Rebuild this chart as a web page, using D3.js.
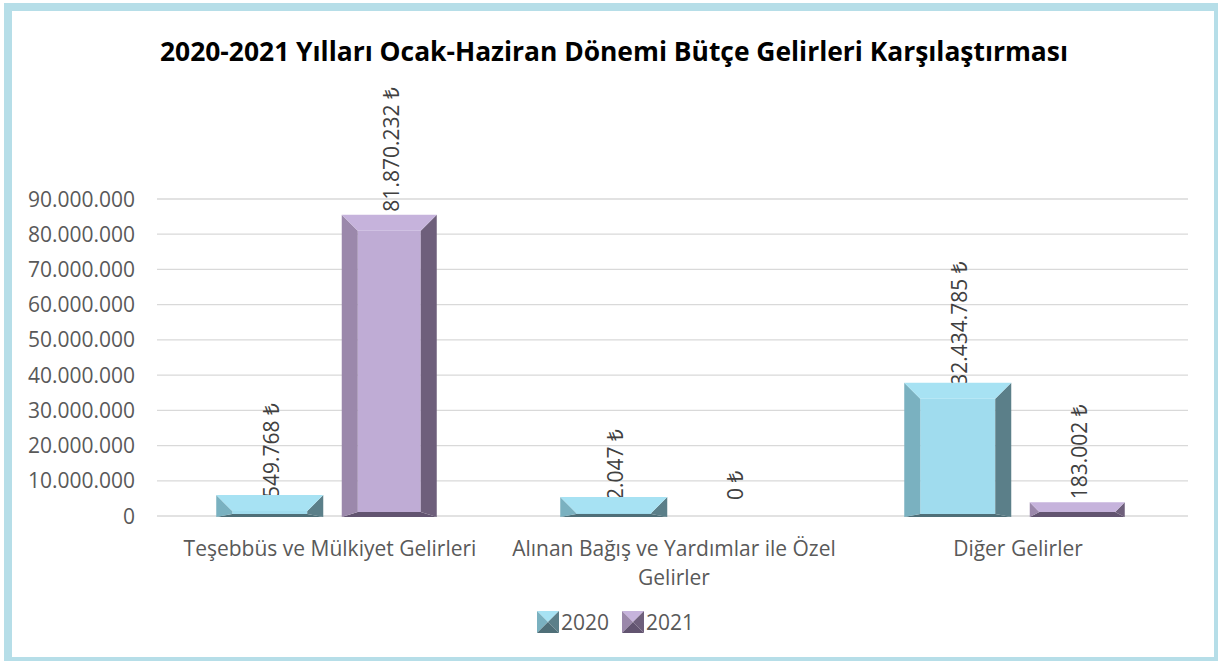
<!DOCTYPE html>
<html>
<head>
<meta charset="utf-8">
<script src="https://cdn.jsdelivr.net/npm/d3@7"></script>
<style>
  body { margin: 0; background: #fff; }
  text { font-family: 'Open Sans', 'Noto Sans', sans-serif; }
</style>
</head>
<body>
<div id="chart"></div>
<script>
const categories = ['Teşebbüs ve Mülkiyet Gelirleri', 'Alınan Bağış ve Yardımlar ile Özel Gelirler', 'Diğer Gelirler'];
const years = ['2020', '2021'];
const values2020 = [549768, 2047, 32434785];
const values2021 = [81870232, 0, 183002];
const yTicks = [0, 10000000, 20000000, 30000000, 40000000, 50000000, 60000000, 70000000, 80000000, 90000000];

const W = 1218;
const H = 661;
const plot = { left: 157, right: 1188, top: 199, bottom: 516 };

// bevel look per series: face colors and the bevel depth in px
const skins = {
  2020: { top: '#a7e2f3', face: '#a0dcee', left: '#7ab1c0', right: '#5b7f89', bottom: '#4f6f78', lift: 19, bevel: 16, foot: 3, width: 107 },
  2021: { top: '#c6b3dc', face: '#bfacd5', left: '#9b88ab', right: '#6e5f7b', bottom: '#625470', lift: 13, bevel: 16, foot: 5, width: 95 },
};

const tr = d3.formatLocale({ decimal: ',', thousands: '.', grouping: [3], currency: ['', ' ₺'] });
const fmtTick = tr.format(',d');
const fmtLabel = d => tr.format(',d')(d) + ' ₺';

const rows = categories.map((c, i) => ({
  category: c,
  values: [
    { year: '2020', value: values2020[i] },
    { year: '2021', value: values2021[i] },
  ],
}));

const svg = d3.select('#chart').append('svg')
  .attr('width', W)
  .attr('height', H);

// frame
svg.append('rect')
  .attr('x', 8).attr('y', 7)
  .attr('width', 1210).attr('height', 654)
  .attr('fill', '#fff')
  .attr('stroke', '#b6dee8')
  .attr('stroke-width', 8);

svg.append('text')
  .attr('x', 614).attr('y', 61)
  .attr('text-anchor', 'middle')
  .attr('font-size', 26)
  .attr('font-weight', 700)
  .attr('fill', '#000')
  .attr('textLength', 908)
  .attr('lengthAdjust', 'spacingAndGlyphs')
  .text('2020-2021 Yılları Ocak-Haziran Dönemi Bütçe Gelirleri Karşılaştırması');

const x0 = d3.scaleBand().domain(categories).range([plot.left + 1, plot.right + 2]);
const x1 = d3.scaleBand().domain(years).range([52, 291]);
const y = d3.scaleLinear().domain([0, 90000000]).range([plot.bottom, plot.top]);

// gridlines
svg.append('g')
  .selectAll('line')
  .data(yTicks)
  .enter()
  .append('line')
  .attr('x1', plot.left).attr('x2', plot.right)
  .attr('y1', d => y(d)).attr('y2', d => y(d))
  .attr('stroke', '#d9d9d9')
  .attr('stroke-width', 1.3);

svg.append('g')
  .selectAll('text')
  .data(yTicks)
  .enter()
  .append('text')
  .attr('x', 135)
  .attr('y', d => y(d))
  .attr('dy', '0.36em')
  .attr('text-anchor', 'end')
  .attr('font-size', 21)
  .attr('fill', '#595959')
  .text(fmtTick);

const groups = svg.append('g')
  .selectAll('g')
  .data(rows)
  .enter()
  .append('g')
  .attr('transform', d => `translate(${x0(d.category)},0)`);

// data labels sit behind the bars, like the original
groups.selectAll('.lbl')
  .data(d => d.values)
  .enter()
  .append('text')
  .attr('class', 'lbl')
  .attr('transform', d => `translate(${x1(d.year) + x1.bandwidth() / 2 + 2},${y(d.value) - 16}) rotate(-90)`)
  .attr('dy', '0.36em')
  .attr('font-size', 21)
  .attr('fill', '#404040')
  .text(d => fmtLabel(d.value));

function bevelBar(g, d) {
  const s = skins[d.year];
  const cx = x1(d.year) + x1.bandwidth() / 2;
  const xa = cx - s.width / 2;
  const xb = cx + s.width / 2;
  const yt = y(d.value) - s.lift;
  const yb = plot.bottom + 1;
  const h = yb - yt;
  const b = Math.min(s.bevel, h - s.foot);
  const yf = yb - s.foot;
  const poly = (pts, fill) => g.append('polygon')
    .attr('points', pts.map(p => p.join(',')).join(' '))
    .attr('fill', fill);
  poly([[xa + b, yt + b], [xb - b, yt + b], [xb - b, yf], [xa + b, yf]], s.face);
  poly([[xa, yb], [xa + b, yf], [xb - b, yf], [xb, yb]], s.bottom);
  poly([[xa, yt], [xa + b, yt + b], [xa + b, yf], [xa, yb]], s.left);
  poly([[xb, yt], [xb - b, yt + b], [xb - b, yf], [xb, yb]], s.right);
  poly([[xa, yt], [xb, yt], [xb - b, yt + b], [xa + b, yt + b]], s.top);
}

groups.each(function (row) {
  const g = d3.select(this);
  row.values.filter(v => v.value > 0).forEach(v => bevelBar(g.append('g'), v));
});

// category labels, wrapped to the band
const catText = groups.append('text')
  .attr('x', x0.bandwidth() / 2)
  .attr('y', 556)
  .attr('text-anchor', 'middle')
  .attr('font-size', 21)
  .attr('fill', '#595959');

catText.each(function (d) {
  const t = d3.select(this);
  const words = d.category.split(' ');
  let line = [];
  let n = 0;
  let ts = t.append('tspan').attr('x', x0.bandwidth() / 2).attr('dy', 0);
  words.forEach(w => {
    line.push(w);
    ts.text(line.join(' '));
    if (ts.node().getComputedTextLength() > 335 && line.length > 1) {
      line.pop();
      ts.text(line.join(' '));
      line = [w];
      n += 1;
      ts = t.append('tspan').attr('x', x0.bandwidth() / 2).attr('dy', '1.38em').text(w);
    }
  });
});

// legend
const legend = svg.append('g')
  .selectAll('g')
  .data(years)
  .enter()
  .append('g')
  .attr('transform', (d, i) => `translate(${537 + i * 85},611)`);

legend.each(function (yr) {
  const g = d3.select(this);
  const s = skins[yr];
  const k = 22;
  const tri = (pts, fill) => g.append('polygon')
    .attr('points', pts.map(p => p.join(',')).join(' '))
    .attr('fill', fill);
  tri([[0, 0], [k, 0], [k / 2, k / 2]], s.top);
  tri([[0, 0], [k / 2, k / 2], [0, k]], s.left);
  tri([[k, 0], [k, k], [k / 2, k / 2]], s.right);
  tri([[0, k], [k, k], [k / 2, k / 2]], s.bottom);
  g.append('text')
    .attr('x', k + 2)
    .attr('y', k / 2)
    .attr('dy', '0.36em')
    .attr('font-size', 21)
    .attr('fill', '#595959')
    .text(yr);
});
</script>
</body>
</html>
